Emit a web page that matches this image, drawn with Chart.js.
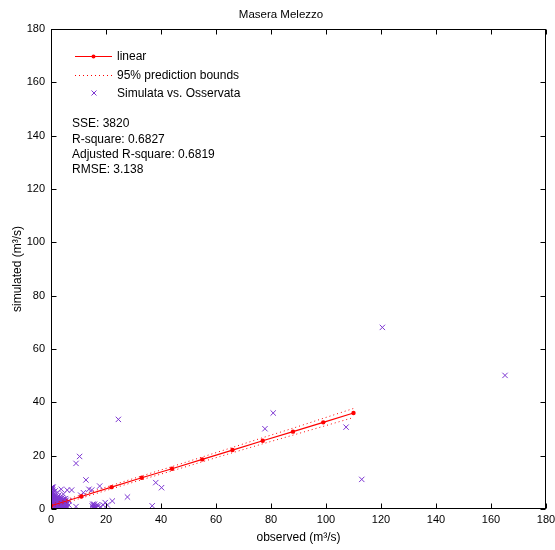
<!DOCTYPE html>
<html>
<head>
<meta charset="utf-8">
<title>Masera Melezzo</title>
<script src="https://cdn.jsdelivr.net/npm/chart.js@4"></script>
<style>
  html, body { margin: 0; padding: 0; background: #fff; }
  canvas { display: block; }
</style>
</head>
<body>
<canvas id="chart" width="555" height="550"></canvas>
<script>
// Observed vs simulated discharge (m3/s)
const obsX = [
  0.1, 0.1, 0.1, 0.1, 0.1, 0.1, 0.1, 0.1, 0.1,
  0.4, 0.4, 0.4, 0.4, 0.4, 0.4, 0.4, 0.4,
  0.8, 0.8, 0.8, 0.8, 0.8, 0.8,
  1.2, 1.2, 1.2, 1.2,
  1.7, 1.7, 1.7, 1.7, 1.7,
  2.2, 2.2, 2.2, 2.2,
  2.7, 2.7, 2.7, 2.7, 2.7,
  3.2, 3.2, 3.2, 3.2,
  3.7, 3.7, 3.7, 3.7,
  4.2, 4.2, 4.2,
  4.8, 4.8, 4.8,
  5.3, 5.3, 5.3,
  5.9, 5.9, 5.9,
  6.5, 6.5, 2.4, 1.5, 4.5,
  0.2, 0.2, 0.2, 0.2, 0.6, 0.6, 0.6, 0.6, 0.6,
  1.0, 1.0, 1.0, 1.0, 1.4, 1.4, 1.4, 1.9, 1.9, 1.9,
  2.4, 2.4, 2.4, 2.9, 2.9, 2.9, 3.4, 3.4, 3.4,
  3.9, 3.9, 3.9, 4.4, 4.4, 5.0, 5.0, 5.6, 5.6,
  0.3, 0.3, 0.3, 0.3, 0.7, 0.7, 0.7, 0.7,
  1.1, 1.1, 1.1, 1.6, 1.6, 1.6, 2.0, 2.0, 2.0,
  2.5, 2.5, 2.5, 3.0, 3.0, 3.0, 3.5, 3.5, 3.5,
  4.0, 4.0, 4.0, 4.6, 4.6, 4.6, 5.2, 5.2, 5.5, 5.5,
  15.2, 15.6, 16.4, 15.8, 17.2, 15.0, 16.0,
  7.5, 9.1, 10.4, 12.7, 13.8, 17.7, 11.8, 10.8, 14.8,
  27.8, 22.3, 19.7, 19.0, 16.8, 16.0, 15.3, 15.5, 16.2, 20.5, 18.0, 9.1,
  38.1, 40.2, 36.8, 24.5,
  77.8, 80.8, 107.3, 113.0, 120.5, 165.1
];
const simY = [
  0.2, 1.0, 2.1, 3.0, 4.2, 5.1, 6.0, 7.0, 8.0,
  0.6, 1.6, 2.6, 3.6, 4.6, 5.6, 6.6, 7.6,
  0.3, 1.3, 2.3, 3.4, 4.4, 5.5,
  0.5, 1.8, 2.9, 4.0,
  0.2, 1.1, 2.4, 3.5, 4.8,
  0.7, 1.9, 3.1, 4.3,
  0.3, 1.4, 2.6, 3.8, 5.0,
  0.9, 2.0, 3.3, 4.4,
  0.4, 1.6, 2.8, 7.4,
  1.1, 2.3, 3.6,
  0.5, 1.7, 2.9,
  1.2, 2.4, 3.9,
  0.8, 2.1, 7.1,
  1.5, 3.0, 6.3, 6.8, 5.6,
  0.8, 2.8, 4.8, 6.8, 1.2, 3.2, 5.2, 7.2, 8.3,
  0.9, 2.6, 3.8, 5.0, 0.4, 2.2, 3.2, 0.6, 1.6, 2.8,
  0.3, 1.3, 3.7, 0.8, 2.1, 3.3, 0.4, 1.3, 2.5,
  0.7, 2.0, 3.1, 0.4, 2.7, 1.0, 2.2, 0.3, 1.8,
  1.4, 3.4, 5.8, 7.8, 2.0, 4.0, 6.2, 8.1,
  1.5, 3.3, 4.5, 0.6, 2.0, 3.9, 1.0, 2.5, 4.0,
  1.0, 2.0, 4.4, 1.1, 2.5, 4.1, 0.8, 1.9, 3.9,
  1.4, 2.6, 4.2, 1.1, 2.2, 3.6, 0.6, 2.8, 1.3, 3.3,
  1.8, 1.0, 0.6, 1.8, 1.1, 1.1, 0.4,
  7.1, 17.1, 19.7, 10.9, 7.4, 8.6, 6.1, 5.2, 7.1,
  4.5, 3.0, 2.4, 1.5, 1.5, 1.0, 0.5, 1.5, 0.3, 1.5, 0.8, 0.9,
  9.9, 8.0, 1.2, 33.6,
  30.1, 36.0, 30.7, 11.1, 68.1, 50.1
];

// Linear fit and 95% prediction bounds
const fitX   = [0, 11, 22, 33, 44, 55, 66, 77, 88, 99, 110];
const fitY   = [1.2, 4.7, 8.2, 11.7, 15.1, 18.6, 22.1, 25.6, 29.0, 32.5, 36.0];
const upperY = [1.8, 5.3, 8.85, 12.4, 15.9, 19.5, 23.1, 26.75, 30.3, 34.0, 37.7];
const lowerY = [0.6, 4.1, 7.55, 11.0, 14.3, 17.7, 21.1, 24.45, 27.7, 31.0, 34.3];

const tickValues = [0, 20, 40, 60, 80, 100, 120, 140, 160, 180];
const legendLabels = ['linear', '95% prediction bounds', 'Simulata vs. Osservata'];
const statsLines = ['SSE: 3820', 'R-square: 0.6827', 'Adjusted R-square: 0.6819', 'RMSE: 3.138'];

const RED = '#ff0000';
const PURPLE = 'rgb(125,55,210)';
const AXIS = '#000';
const FONT = '"Liberation Sans", Arial, sans-serif';

const toPts = (xs, ys) => xs.map((x, i) => ({ x, y: ys[i] }));

// Title, box, inward ticks, legend and fit statistics
const matlabLook = {
  id: 'matlabLook',
  afterDraw(chart) {
    const { ctx, chartArea: a, scales } = chart;
    ctx.save();
    ctx.fillStyle = '#000';
    ctx.font = '11.5px ' + FONT;
    ctx.textAlign = 'center';
    ctx.textBaseline = 'middle';
    ctx.fillText('Masera Melezzo', 281, 15);

    ctx.strokeStyle = AXIS;
    ctx.lineWidth = 1;
    const L = Math.round(a.left) + 0.5, R = Math.round(a.right) - 0.5;
    const T = Math.round(a.top) + 0.5, B = Math.round(a.bottom) - 0.5;
    ctx.strokeRect(L, T, R - L, B - T);
    ctx.beginPath();
    tickValues.forEach(v => {
      const px = Math.round(scales.x.getPixelForValue(v)) + 0.5;
      const py = Math.round(scales.y.getPixelForValue(v)) + 0.5;
      ctx.moveTo(px, B); ctx.lineTo(px, B - 5);
      ctx.moveTo(px, T); ctx.lineTo(px, T + 5);
      ctx.moveTo(L, py); ctx.lineTo(L + 5, py);
      ctx.moveTo(R, py); ctx.lineTo(R - 5, py);
    });
    ctx.stroke();

    // legend
    ctx.font = '12px ' + FONT;
    ctx.textAlign = 'left';
    const rows = [56, 75, 93];
    ctx.strokeStyle = RED;
    ctx.beginPath(); ctx.moveTo(75, rows[0] + 0.5); ctx.lineTo(112, rows[0] + 0.5); ctx.stroke();
    ctx.fillStyle = RED;
    ctx.beginPath(); ctx.arc(93.5, rows[0] + 0.5, 2, 0, Math.PI * 2); ctx.fill();
    ctx.setLineDash([1, 3]);
    ctx.beginPath(); ctx.moveTo(75, rows[1] + 0.5); ctx.lineTo(112, rows[1] + 0.5); ctx.stroke();
    ctx.setLineDash([]);
    ctx.strokeStyle = PURPLE;
    ctx.beginPath();
    ctx.moveTo(91.5, rows[2] - 2.5); ctx.lineTo(96.5, rows[2] + 2.5);
    ctx.moveTo(96.5, rows[2] - 2.5); ctx.lineTo(91.5, rows[2] + 2.5);
    ctx.stroke();
    ctx.fillStyle = '#000';
    legendLabels.forEach((t, i) => ctx.fillText(t, 117, rows[i] + 1));

    statsLines.forEach((t, i) => ctx.fillText(t, 72, 124 + i * 15.3));
    ctx.restore();
  }
};

// keep the plot box at fixed edges (no extra room for the last tick label)
const noLabelPadding = (s) => {
  s.paddingLeft = 0; s.paddingRight = 0; s.paddingTop = 0; s.paddingBottom = 0;
};

new Chart(document.getElementById('chart'), {
  type: 'scatter',
  data: {
    datasets: [
      {
        label: legendLabels[0],
        data: toPts(fitX, fitY),
        showLine: true,
        borderColor: RED,
        borderWidth: 1.2,
        pointRadius: 2.2,
        pointBackgroundColor: RED,
        pointBorderWidth: 0,
        order: 0
      },
      {
        label: 'upper',
        data: toPts(fitX, upperY),
        showLine: true,
        borderColor: RED,
        borderWidth: 1,
        borderDash: [1, 3],
        pointRadius: 0,
        order: 0
      },
      {
        label: 'lower',
        data: toPts(fitX, lowerY),
        showLine: true,
        borderColor: RED,
        borderWidth: 1,
        borderDash: [1, 3],
        pointRadius: 0,
        order: 0
      },
      {
        label: legendLabels[2],
        data: toPts(obsX, simY),
        pointStyle: 'crossRot',
        pointRadius: 3.8,
        borderColor: PURPLE,
        pointBorderWidth: 1,
        order: 1
      }
    ]
  },
  options: {
    responsive: false,
    animation: false,
    events: [],
    layout: { padding: { top: 29, right: 9, left: 0, bottom: 0 } },
    plugins: { legend: { display: false }, tooltip: { enabled: false }, title: { display: false } },
    scales: {
      x: {
        type: 'linear', min: 0, max: 180,
        grid: { display: false, drawTicks: false },
        border: { display: false },
        ticks: { stepSize: 20, padding: 4, color: '#000', font: { family: FONT, size: 11 } },
        title: { display: true, text: 'observed (m³/s)', color: '#000', font: { family: FONT, size: 12 }, padding: { top: 0, bottom: 5 } },
        afterFit: (s) => { s.height = 41; noLabelPadding(s); }
      },
      y: {
        type: 'linear', min: 0, max: 180,
        grid: { display: false, drawTicks: false },
        border: { display: false },
        ticks: { stepSize: 20, padding: 6, color: '#000', font: { family: FONT, size: 11 } },
        title: { display: true, text: 'simulated (m³/s)', color: '#000', font: { family: FONT, size: 12 }, padding: { top: 10, bottom: 0 } },
        afterFit: (s) => { s.width = 51; noLabelPadding(s); }
      }
    }
  },
  plugins: [matlabLook]
});
</script>
</body>
</html>
